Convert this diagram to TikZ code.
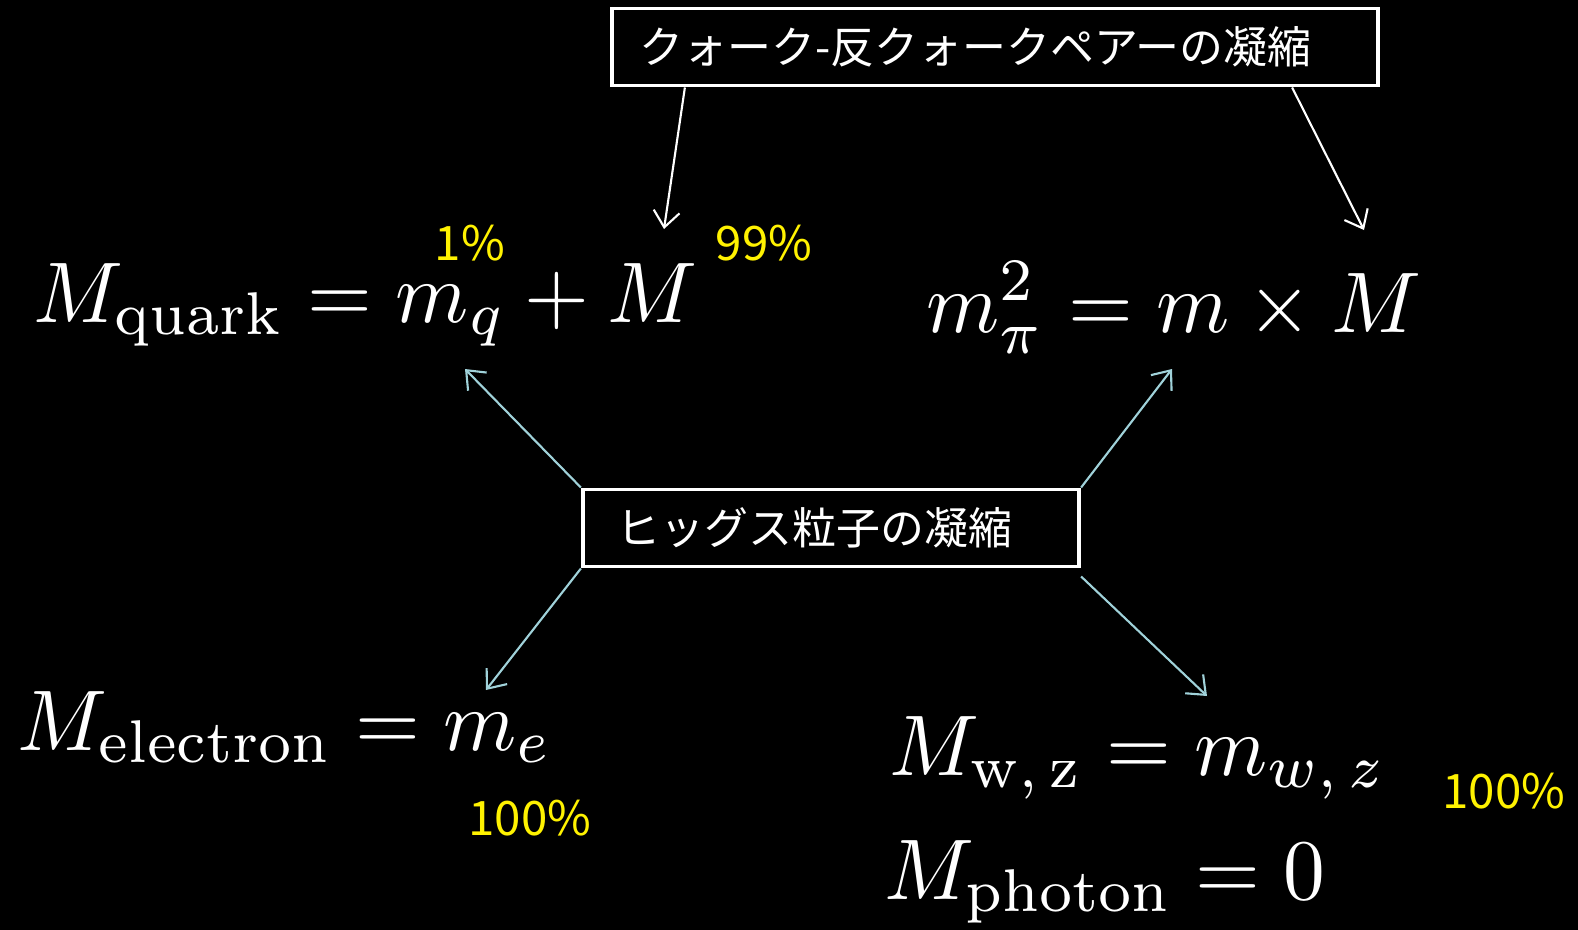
\documentclass[tikz,border=0pt]{standalone}
\usepackage{fontspec}
\usepackage{graphicx}
\newfontfamily\jpfont{Noto Sans CJK JP}
\usetikzlibrary{arrows.meta,positioning}
\definecolor{higgsblue}{RGB}{160,210,218}
\newcommand{\bigeq}[1]{\scalebox{2.37}[2.45]{$#1$}}

\begin{document}
\begin{tikzpicture}[x=0.01cm,y=-0.01cm,>={Straight Barb[length=1.6mm,width=2.6mm]},
        condbox/.style={draw=white,line width=1.1pt,fill=black,text=white,align=left,
                        inner xsep=0.28cm,minimum height=0.77cm,
                        font=\jpfont\fontsize{12.5}{15}\selectfont},
        eqn/.style={text=white,anchor=base west,inner sep=0pt},
        pct/.style={text=yellow,inner sep=0pt,font=\jpfont\fontsize{13.5}{16}\selectfont}]
        \fill[black] (0,0) rectangle (1578,930);
        \useasboundingbox (0,0) rectangle (1578,930);

        \node[condbox,text width=7.1cm] (quarkpair) at (995,47)
              {クォーク-反クォークペアーの凝縮};
        \node[condbox,text width=4.28cm,inner xsep=0.34cm] (higgs) at (831,528)
              {ヒッグス粒子の凝縮};

        \node[eqn] (quark) at (33,322) {\bigeq{M_{\mathrm{quark}} = m_q + M}};
        \node[eqn] (pion) at (926,332) {\bigeq{m_\pi^2 = m \times M}};
        \node[eqn] (electron) at (17,750) {\bigeq{M_{\mathrm{electron}} = m_e}};
        \node[eqn] (wz) at (889,775) {\bigeq{M_{\mathrm{w,\,z}} = m_{w,\,z}}};
        \node[eqn] (photon) at (884,899) {\bigeq{M_{\mathrm{photon}} = 0}};

        \node[pct] (pctq) at (470,243) {1\%};
        \node[pct] (pctM) at (764,243) {99\%};
        \node[pct] (pcte) at (530,818) {100\%};
        \node[pct] (pctwz) at (1504,791) {100\%};

        \coordinate (bigM) at (664,229);
        \coordinate (pionM) at (1364,230);
        \coordinate (mq) at (465,369);
        \coordinate (mpi) at (1172,369);
        \coordinate (me) at (486,690);
        \coordinate (mwz) at (1207,696);

        \draw[->,white,line width=0.6pt] ([xshift=0.75cm]quarkpair.south west) -- (bigM);
        \draw[->,white,line width=0.6pt] ([xshift=-0.88cm]quarkpair.south east) -- (pionM);
        \draw[->,higgsblue,line width=0.6pt] (higgs.north west) -- (mq);
        \draw[->,higgsblue,line width=0.6pt] (higgs.north east) -- (mpi);
        \draw[->,higgsblue,line width=0.6pt] (higgs.south west) -- (me);
        \draw[->,higgsblue,line width=0.6pt] ([yshift=-0.08cm]higgs.south east) -- (mwz);
    \end{tikzpicture}
\end{document}
